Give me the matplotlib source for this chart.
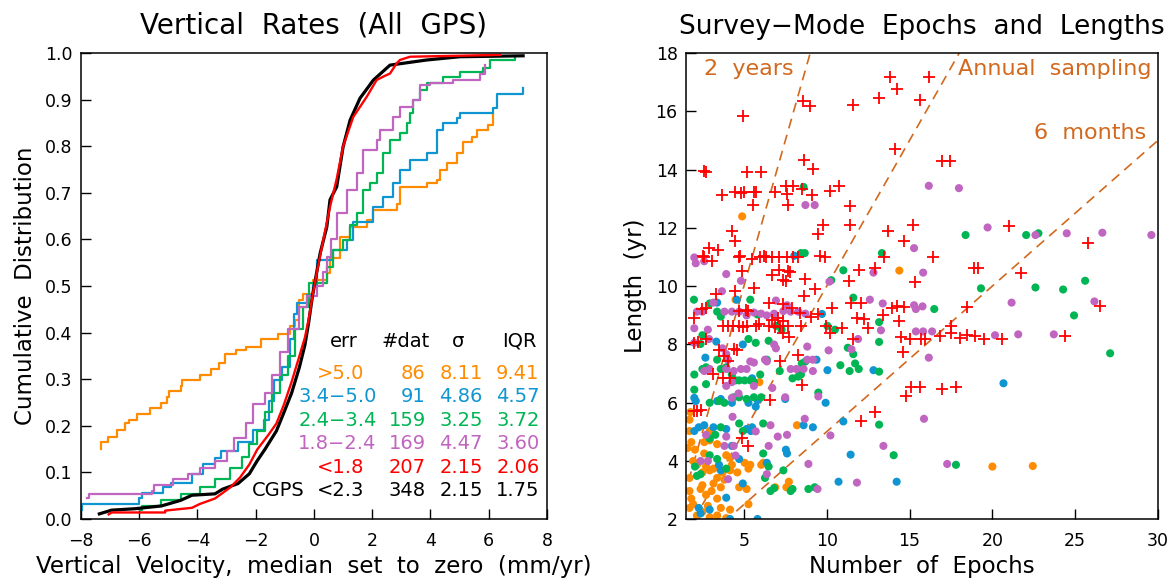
import numpy as np
import matplotlib
matplotlib.use("Agg")
import matplotlib.pyplot as plt

plt.rcParams["font.family"] = ["DejaVu Sans"]

# ---------------------------------------------------------------------------
# LEFT PANEL: cumulative distributions (x = velocity at jump, c = level after)
# ---------------------------------------------------------------------------
orange_v = [-7.32, -7.32, -7.08, -6.75, -6.49, -6.36, -6.09, -5.63, -5.24, -5.04, -4.98, -4.58,
            -4.52, -3.92, -3.53, -3.26, -3.07, -2.67, -2.35, -1.82, -1.23, -0.83, -0.64, -0.50,
            -0.37, -0.03, 0.44, 0.55, 0.89, 1.24, 1.81, 2.04, 2.84, 2.95, 3.87, 4.21, 4.33,
            4.56, 4.90, 5.13, 5.41, 5.59, 5.99, 6.16]
orange_c = [0.150, 0.165, 0.177, 0.190, 0.205, 0.213, 0.225, 0.238, 0.250, 0.262, 0.274, 0.286,
            0.298, 0.310, 0.322, 0.334, 0.354, 0.362, 0.370, 0.386, 0.398, 0.415, 0.427, 0.470,
            0.483, 0.513, 0.528, 0.560, 0.606, 0.627, 0.642, 0.663, 0.677, 0.713, 0.720, 0.727,
            0.749, 0.763, 0.785, 0.810, 0.820, 0.835, 0.846, 0.870]

blue_v = [-7.95, -7.95, -6.00, -5.90, -5.20, -4.90, -4.20, -3.80, -3.40, -3.20, -2.60, -2.10,
          -1.70, -1.56, -1.36, -1.10, -0.84, -0.70, -0.57, -0.24, -0.03, 0.09, 0.66, 1.12,
          1.35, 2.04, 2.38, 2.72, 2.95, 3.30, 3.87, 4.21, 4.44, 4.90, 5.01, 6.16, 6.27, 7.19]
blue_c = [0.020, 0.033, 0.044, 0.056, 0.068, 0.078, 0.097, 0.117, 0.130, 0.145, 0.165, 0.190,
          0.213, 0.254, 0.298, 0.326, 0.386, 0.440, 0.463, 0.480, 0.503, 0.556, 0.577, 0.599,
          0.638, 0.670, 0.692, 0.720, 0.749, 0.770, 0.785, 0.835, 0.849, 0.860, 0.871, 0.881,
          0.913, 0.924]

green_v = [-5.96, -5.90, -5.24, -4.58, -3.92, -3.40, -2.87, -2.48, -2.22, -1.95, -1.69, -1.43,
           -1.16, -0.90, -0.64, -0.37, -0.18, 0.44, 0.66, 1.00, 1.24, 1.47, 1.69, 1.92, 2.15,
           2.38, 2.61, 2.95, 3.18, 3.30, 3.41, 3.64, 3.87, 4.44, 5.01, 5.81, 6.04, 6.90]
green_c = [0.020, 0.028, 0.040, 0.054, 0.068, 0.085, 0.109, 0.133, 0.161, 0.189, 0.229, 0.270,
           0.310, 0.350, 0.407, 0.455, 0.506, 0.541, 0.577, 0.599, 0.630, 0.656, 0.706, 0.720,
           0.742, 0.785, 0.813, 0.828, 0.849, 0.871, 0.899, 0.920, 0.935, 0.949, 0.960, 0.967,
           0.985, 0.989]

purple_v = [-7.80, -7.74, -5.57, -5.50, -4.84, -4.32, -3.92, -3.40, -3.00, -2.74, -2.35, -2.08,
            -1.69, -1.43, -1.16, -0.90, -0.50, -0.24, 0.09, 0.30, 0.44, 0.60, 0.78, 1.12, 1.47,
            1.69, 2.15, 2.27, 2.72, 2.95, 3.41, 3.64, 4.00, 4.78, 5.70, 5.87]
purple_c = [0.044, 0.054, 0.060, 0.072, 0.085, 0.097, 0.109, 0.125, 0.145, 0.173, 0.205, 0.246,
            0.270, 0.310, 0.358, 0.407, 0.455, 0.479, 0.500, 0.530, 0.563, 0.600, 0.656, 0.706,
            0.742, 0.792, 0.813, 0.835, 0.863, 0.885, 0.899, 0.931, 0.935, 0.942, 0.956, 0.974]

red_v = [-7.05, -6.95, -5.11, -5.11, -4.19, -3.93, -3.40, -2.87, -2.54, -2.22, -1.95, -1.56,
         -1.29, -1.03, -0.77, -0.50, -0.31, -0.18, -0.05, 0.10, 0.32, 0.55, 0.78, 1.00, 1.35,
         1.81, 2.15, 2.40, 2.61, 2.84, 2.95, 3.30, 6.39]
red_c = [0.010, 0.014, 0.014, 0.018, 0.024, 0.032, 0.044, 0.068, 0.089, 0.117, 0.149, 0.181,
         0.205, 0.246, 0.294, 0.350, 0.390, 0.430, 0.479, 0.530, 0.599, 0.670, 0.730, 0.800,
         0.863, 0.906, 0.942, 0.950, 0.956, 0.978, 0.985, 0.992, 0.996]

cgps_v = [-7.37, -6.95, -6.16, -5.24, -4.58, -4.19, -3.40, -3.14, -2.61, -2.22, -1.95, -1.69,
          -1.29, -1.03, -0.77, -0.50, -0.31, -0.18, -0.05, 0.21, 0.44, 0.55, 0.78, 1.00, 1.24,
          1.58, 2.04, 2.61, 3.87, 5.01, 7.18]
cgps_c = [0.011, 0.019, 0.022, 0.028, 0.040, 0.051, 0.054, 0.064, 0.076, 0.097, 0.125, 0.149,
          0.189, 0.229, 0.270, 0.326, 0.374, 0.423, 0.480, 0.570, 0.627, 0.685, 0.713, 0.799,
          0.856, 0.903, 0.942, 0.974, 0.985, 0.992, 0.994]

# table in the left panel
tab_err = [">5.0", "3.4\u22125.0", "2.4\u22123.4", "1.8\u22122.4", "<1.8", "<2.3"]
tab_ndat = ["86", "91", "159", "169", "207", "348"]
tab_sig = ["8.11", "4.86", "3.25", "4.47", "2.15", "2.15"]
tab_iqr = ["9.41", "4.57", "3.72", "3.60", "2.06", "1.75"]

# ---------------------------------------------------------------------------
# RIGHT PANEL: number of epochs vs length (yr)
# ---------------------------------------------------------------------------
orange_pts = [(4.89, 12.39), (14.38, 10.53), (20.0, 3.8), (22.44, 3.82), (8.2, 5.22), (5.93, 6.7),
              (4.49, 9.53), (1.71, 5.41), (1.71, 5.02), (1.6, 4.44), (1.71, 3.41), (1.71, 2.96),
              (1.82, 2.7), (1.93, 2.51), (1.71, 2.38), (2.16, 2.12), (2.49, 2.25), (2.82, 2.45),
              (2.93, 2.06), (2.38, 3.03), (2.49, 3.16), (2.71, 2.83), (3.16, 3.22), (3.04, 2.96),
              (3.38, 2.7), (3.6, 3.09), (3.82, 3.35), (3.93, 4.19), (3.71, 3.6), (3.38, 3.41),
              (3.16, 3.73), (2.6, 4.25), (2.71, 3.8), (2.93, 3.67), (4.16, 3.67), (4.27, 3.86),
              (4.6, 3.6), (3.6, 2.38), (3.38, 2.12), (4.16, 2.32), (3.93, 2.03), (5.27, 3.73),
              (5.38, 3.86), (6.04, 3.86), (6.16, 3.93), (4.71, 3.09), (5.16, 3.03), (5.27, 2.51),
              (1.93, 3.99), (2.04, 4.38), (1.82, 4.64), (2.6, 4.64), (2.93, 4.7), (4.16, 4.1),
              (5.04, 3.93), (6.89, 3.09), (7.56, 3.09), (7.71, 3.28), (1.76, 5.67), (2.93, 5.02),
              (3.38, 4.57), (2.16, 3.86), (2.49, 3.6)]

blue_pts = [(8.04, 11.04), (4.56, 9.53), (3.38, 9.43), (9.71, 9.04), (3.33, 8.09), (4.93, 7.99),
            (2.67, 7.54), (9.38, 7.47), (10.04, 7.11), (12.82, 7.11), (20.67, 6.66), (7.49, 6.12),
            (9.93, 5.99), (2.0, 6.16), (2.09, 6.05), (3.38, 6.05), (3.6, 6.12), (4.27, 5.99),
            (5.27, 5.99), (5.82, 6.08), (2.27, 5.15), (2.0, 5.02), (2.6, 5.22), (3.16, 5.15),
            (3.93, 5.09), (5.16, 5.09), (5.49, 5.15), (5.42, 5.02), (5.71, 5.86), (5.49, 6.83),
            (8.6, 5.22), (9.16, 5.15), (11.0, 5.35), (11.44, 4.21), (10.71, 3.28), (14.22, 3.28),
            (7.53, 4.38), (7.6, 4.25), (3.49, 3.86), (3.6, 3.67), (3.93, 2.73), (2.93, 2.32),
            (2.27, 2.38), (4.27, 4.51), (4.71, 4.06), (6.38, 3.93), (4.93, 3.22), (4.16, 2.0),
            (5.82, 2.0), (2.38, 2.19)]

green_pts = [(8.6, 13.4), (22.04, 11.75), (22.78, 11.81), (18.38, 11.75), (8.44, 11.13),
             (8.67, 11.13), (13.33, 11.13), (11.0, 10.54), (10.27, 10.2), (19.31, 9.92),
             (22.6, 9.95), (24.27, 9.88), (25.6, 10.18), (24.93, 8.99), (16.49, 9.21),
             (27.11, 7.69), (11.6, 9.6), (13.16, 8.76), (13.16, 8.08), (11.27, 7.88), (11.6, 7.66),
             (10.82, 7.28), (11.38, 7.08), (11.93, 7.15), (11.71, 7.34), (13.16, 7.06),
             (13.16, 5.24), (14.04, 4.19), (17.8, 3.86), (1.98, 9.53), (2.0, 6.96), (2.0, 6.44),
             (2.93, 9.4), (3.38, 9.12), (3.6, 8.95), (2.38, 8.01), (2.49, 8.31), (2.71, 6.63),
             (2.93, 5.99), (2.49, 7.15), (2.71, 7.21), (3.38, 7.47), (3.6, 7.15), (3.93, 7.21),
             (4.27, 6.96), (4.49, 6.76), (4.71, 6.76), (5.04, 6.76), (5.38, 6.76), (5.6, 6.7),
             (4.38, 6.18), (4.71, 6.18), (5.16, 6.12), (5.6, 6.18), (6.04, 6.18), (3.49, 6.05),
             (3.82, 5.99), (3.6, 5.15), (3.27, 4.89), (2.93, 4.76), (2.04, 3.8), (2.16, 3.48),
             (2.38, 3.54), (2.93, 4.19), (3.38, 4.06), (4.93, 5.02), (5.38, 9.53), (5.82, 9.02),
             (5.27, 8.18), (5.71, 8.05), (6.49, 8.12), (6.38, 7.47), (7.27, 8.5), (6.93, 8.63),
             (6.16, 5.28), (6.16, 4.25), (6.49, 3.8), (6.27, 3.41), (6.6, 2.96), (6.82, 3.06),
             (7.82, 2.96), (7.93, 3.03), (8.89, 3.03), (9.27, 3.09), (7.38, 3.67), (7.93, 6.83),
             (8.27, 6.89), (8.49, 7.34), (8.71, 7.41), (9.49, 6.34), (10.04, 8.63), (10.49, 8.5),
             (8.44, 6.96), (7.16, 7.08), (5.98, 6.96), (4.71, 5.28), (3.93, 3.73)]

purple_pts = [(16.16, 13.44), (17.98, 13.36), (8.71, 12.78), (9.27, 12.78), (19.71, 12.01),
              (22.6, 11.75), (24.49, 11.81), (26.64, 11.83), (29.6, 11.75), (15.27, 11.3),
              (15.82, 10.46), (12.82, 10.46), (10.16, 10.15), (2.0, 10.98), (2.09, 10.78),
              (2.6, 10.85), (3.93, 10.41), (4.82, 10.18), (3.67, 9.82), (21.16, 9.43),
              (26.16, 9.47), (12.6, 9.53), (13.38, 9.4), (15.27, 9.34), (15.38, 9.21),
              (15.78, 9.3), (3.16, 9.43), (2.16, 9.12), (2.49, 9.12), (3.82, 9.12), (4.27, 9.12),
              (4.71, 9.12), (5.16, 8.99), (5.6, 9.09), (6.04, 9.05), (6.38, 8.99), (6.82, 9.05),
              (7.38, 9.14), (7.82, 9.12), (8.27, 9.12), (8.71, 9.05), (6.93, 9.5), (7.6, 9.34),
              (20.16, 8.31), (21.56, 8.34), (23.71, 8.34), (15.38, 8.44), (15.82, 8.44),
              (16.36, 8.44), (13.27, 8.48), (11.89, 8.18), (10.11, 7.79), (11.49, 7.83),
              (16.16, 7.54), (2.0, 8.55), (2.0, 8.05), (2.82, 8.5), (2.89, 8.18), (3.71, 7.86),
              (4.04, 7.47), (3.93, 7.66), (2.93, 7.15), (2.6, 7.08), (3.93, 7.15), (4.38, 7.08),
              (4.82, 7.15), (5.16, 7.15), (5.38, 7.41), (5.6, 7.37), (6.27, 7.47), (6.38, 7.41),
              (6.82, 7.99), (6.93, 7.86), (7.82, 7.15), (8.16, 7.15), (8.6, 7.15), (9.16, 7.08),
              (8.82, 7.92), (8.82, 7.47), (9.16, 7.47), (3.93, 6.57), (4.27, 6.7), (5.6, 6.57),
              (6.71, 6.5), (7.49, 6.18), (4.67, 6.31), (4.27, 6.16), (6.6, 5.22), (8.67, 5.44),
              (9.49, 6.21), (15.87, 5.44), (10.22, 4.87), (7.04, 4.83), (7.6, 4.89), (4.31, 5.51),
              (3.93, 4.83), (13.42, 4.51), (17.27, 3.89), (8.89, 3.89), (11.82, 3.25),
              (9.44, 3.03), (6.38, 3.54), (6.49, 4.51), (5.71, 5.01), (3.82, 4.51), (4.38, 4.51),
              (4.49, 4.18), (2.38, 3.99), (2.82, 3.99), (4.04, 3.37), (2.71, 4.89)]

red_pts = [(13.82, 17.18), (14.22, 16.78), (16.16, 17.18), (13.16, 16.45), (15.6, 16.39),
           (11.56, 16.22), (8.56, 16.36), (8.98, 16.17), (4.93, 15.84), (14.11, 14.71),
           (16.93, 14.3), (17.42, 14.28), (8.64, 14.33), (9.16, 14.02), (2.6, 13.94), (2.71, 13.9),
           (5.2, 13.92), (6.0, 13.9), (7.53, 13.45), (7.98, 13.45), (6.89, 13.24), (7.6, 13.17),
           (3.67, 13.14), (4.44, 13.24), (4.84, 13.2), (4.98, 13.24), (5.62, 13.24), (5.71, 13.24),
           (8.53, 13.33), (9.13, 13.14), (10.22, 13.27), (10.76, 13.44), (5.56, 12.78),
           (7.64, 12.78), (11.38, 12.76), (11.38, 12.11), (9.78, 12.08), (9.47, 11.79),
           (13.67, 11.89), (15.2, 12.08), (21.0, 12.07), (4.27, 11.88), (4.44, 11.53),
           (14.67, 11.53), (25.78, 11.47), (2.89, 11.3), (3.42, 11.23), (2.53, 11.04), (2.6, 10.98),
           (3.04, 10.86), (4.67, 10.98), (4.76, 11.04), (5.51, 10.93), (5.98, 11.0), (6.18, 11.04),
           (6.31, 11.0), (6.71, 10.98), (7.11, 10.98), (7.6, 10.98), (7.98, 11.0), (8.27, 11.0),
           (9.6, 11.04), (9.87, 10.98), (13.44, 11.0), (16.44, 11.0), (4.89, 10.53), (6.67, 10.37),
           (7.09, 10.56), (7.33, 10.2), (7.51, 10.18), (7.67, 10.5), (7.78, 10.47), (8.71, 10.24),
           (11.33, 10.18), (11.93, 10.54), (12.89, 10.63), (15.33, 10.15), (18.89, 10.63),
           (19.16, 10.63), (21.71, 10.44), (5.6, 9.92), (4.44, 9.82), (3.33, 9.73), (9.27, 9.88),
           (8.6, 9.66), (6.49, 9.4), (7.38, 9.38), (2.49, 9.21), (2.71, 9.25), (4.71, 9.15),
           (5.11, 9.17), (5.27, 9.15), (7.93, 9.25), (8.38, 9.08), (9.04, 8.92), (9.49, 9.04),
           (10.31, 9.24), (11.49, 9.43), (12.04, 9.43), (13.38, 9.02), (13.93, 9.25), (14.27, 9.3),
           (14.67, 9.28), (18.44, 9.28), (26.49, 9.3), (2.0, 8.89), (3.76, 8.63), (4.04, 8.63),
           (4.31, 8.63), (4.67, 8.63), (4.93, 8.6), (5.16, 8.63), (5.71, 8.63), (5.93, 8.7),
           (6.49, 8.63), (6.89, 8.6), (7.16, 8.63), (7.38, 8.79), (7.64, 8.63), (6.71, 8.82),
           (7.04, 8.89), (8.44, 8.63), (9.93, 8.63), (10.93, 8.57), (11.82, 8.89), (12.27, 8.86),
           (12.49, 8.57), (14.38, 8.79), (17.49, 8.63), (2.0, 8.05), (2.22, 8.09), (2.71, 8.18),
           (7.38, 8.4), (7.71, 8.25), (10.22, 8.37), (11.6, 8.18), (14.49, 8.25), (15.04, 8.18),
           (15.71, 8.18), (15.93, 8.18), (16.82, 8.27), (17.49, 8.4), (18.04, 8.22), (18.49, 8.31),
           (18.93, 8.27), (19.49, 8.18), (20.6, 8.18), (24.38, 8.27), (3.49, 7.79), (3.82, 7.6),
           (4.04, 7.41), (4.38, 7.83), (4.6, 7.79), (8.27, 7.63), (14.6, 7.73), (7.16, 7.41),
           (3.16, 6.98), (3.71, 6.83), (4.16, 6.83), (8.49, 6.6), (6.6, 6.08), (14.78, 6.21),
           (15.11, 6.54), (15.6, 6.54), (16.93, 6.46), (17.78, 6.54), (12.89, 5.69), (12.09, 5.35),
           (2.0, 5.71), (2.16, 5.71), (2.38, 5.73), (4.89, 4.79), (5.27, 4.51)]

# sampling-interval guide lines (years per epoch)
guide_slopes = [2.0, 1.0, 0.5]
guide_labels = ["2  years", "Annual  sampling", "6  months"]

ORANGE = "#FF8C00"
BLUE = "#0F96D2"
GREEN = "#00B553"
PURPLE = "#C065C0"
RED = "#FF0000"
GUIDE = "#D2691E"

fig = plt.figure(figsize=(11.69, 5.87), dpi=100)

# ---------------------------------------------------------------------------
# left panel
# ---------------------------------------------------------------------------
ax1 = fig.add_axes([0.06929, 0.11584, 0.39863, 0.79387])
for v, c, col in [(orange_v, orange_c, ORANGE), (blue_v, blue_c, BLUE),
                  (green_v, green_c, GREEN), (purple_v, purple_c, PURPLE)]:
    ax1.step(v, c, where="post", color=col, lw=1.6)
# the two big samples are so dense that their steps merge into a line
ax1.plot(cgps_v, cgps_c, color="black", lw=2.3)
ax1.plot(red_v, red_c, color=RED, lw=1.7)

ax1.set_xlim(-8, 8)
ax1.set_ylim(0, 1)
ax1.set_xticks(np.arange(-8, 9, 2))
ax1.set_xticklabels([str(t).replace("-", "\u2212") for t in range(-8, 9, 2)])
ax1.set_yticks(np.arange(0, 1.01, 0.1))
ax1.set_yticklabels([f"{t:.1f}" for t in np.arange(0, 1.01, 0.1)])
ax1.set_title("Vertical  Rates  (All  GPS)", fontsize=20, pad=14)
ax1.set_xlabel("Vertical  Velocity,  median  set  to  zero  (mm/yr)", fontsize=16.5, labelpad=4)
ax1.set_ylabel("Cumulative  Distribution", fontsize=16.5, labelpad=6)

# table
cols = [ORANGE, BLUE, GREEN, PURPLE, RED, "black"]
row_y = [0.3124, 0.2627, 0.2118, 0.1612, 0.1112, 0.0614]
kw = dict(transform=ax1.transAxes, fontsize=14, va="center")
ax1.text(0.5637, 0.381, "err", ha="center", **kw)
ax1.text(0.6957, 0.381, "#dat", ha="center", **kw)
ax1.text(0.810, 0.381, "\u03c3", ha="center", **kw)
ax1.text(0.940, 0.381, "IQR", ha="center", **kw)
for i in range(6):
    xr = 0.6343 if "\u2212" in tab_err[i] else 0.607
    ax1.text(xr, row_y[i], tab_err[i], ha="right", color=cols[i], **kw)
    ax1.text(0.740, row_y[i], tab_ndat[i], ha="right", color=cols[i], **kw)
    ax1.text(0.862, row_y[i], tab_sig[i], ha="right", color=cols[i], **kw)
    ax1.text(0.984, row_y[i], tab_iqr[i], ha="right", color=cols[i], **kw)
ax1.text(0.4798, row_y[5], "CGPS", ha="right", color="black", **kw)

# ---------------------------------------------------------------------------
# right panel
# ---------------------------------------------------------------------------
ax2 = fig.add_axes([0.58683, 0.11584, 0.40376, 0.79387])
xx = np.array([0.0, 40.0])
for s in guide_slopes:
    ax2.plot(xx, s * xx, ls=(0, (6, 4)), color=GUIDE, lw=1.2, zorder=1)

for pts, col in [(orange_pts, ORANGE), (blue_pts, BLUE), (green_pts, GREEN), (purple_pts, PURPLE)]:
    a = np.array(pts)
    ax2.scatter(a[:, 0], a[:, 1], s=34, color=col, edgecolors="none", zorder=2)
r = np.array(red_pts)
ax2.scatter(r[:, 0], r[:, 1], s=75, marker="+", color=RED, linewidths=1.3, zorder=3)

ax2.text(2.6, 17.44, guide_labels[0], color=GUIDE, fontsize=16, va="center", ha="left")
ax2.text(29.6, 17.44, guide_labels[1], color=GUIDE, fontsize=16, va="center", ha="right")
ax2.text(29.3, 15.25, guide_labels[2], color=GUIDE, fontsize=16, va="center", ha="right")

ax2.set_xlim(1.5, 30)
ax2.set_ylim(2, 18)
ax2.set_xticks(np.arange(5, 31, 5))
ax2.set_yticks(np.arange(2, 19, 2))
ax2.set_title("Survey\u2212Mode  Epochs  and  Lengths", fontsize=19, pad=14)
ax2.set_xlabel("Number  of  Epochs", fontsize=16.5, labelpad=4)
ax2.set_ylabel("Length  (yr)", fontsize=16.5, labelpad=6)

for ax in (ax1, ax2):
    ax.tick_params(axis="both", direction="in", length=7, width=1.0, labelsize=12.5,
                   top=False, right=False)
    ax.tick_params(axis="x", pad=9)
    ax.tick_params(axis="y", pad=6)
    for sp in ax.spines.values():
        sp.set_linewidth(1.1)

fig.savefig("out.png", dpi=100)
